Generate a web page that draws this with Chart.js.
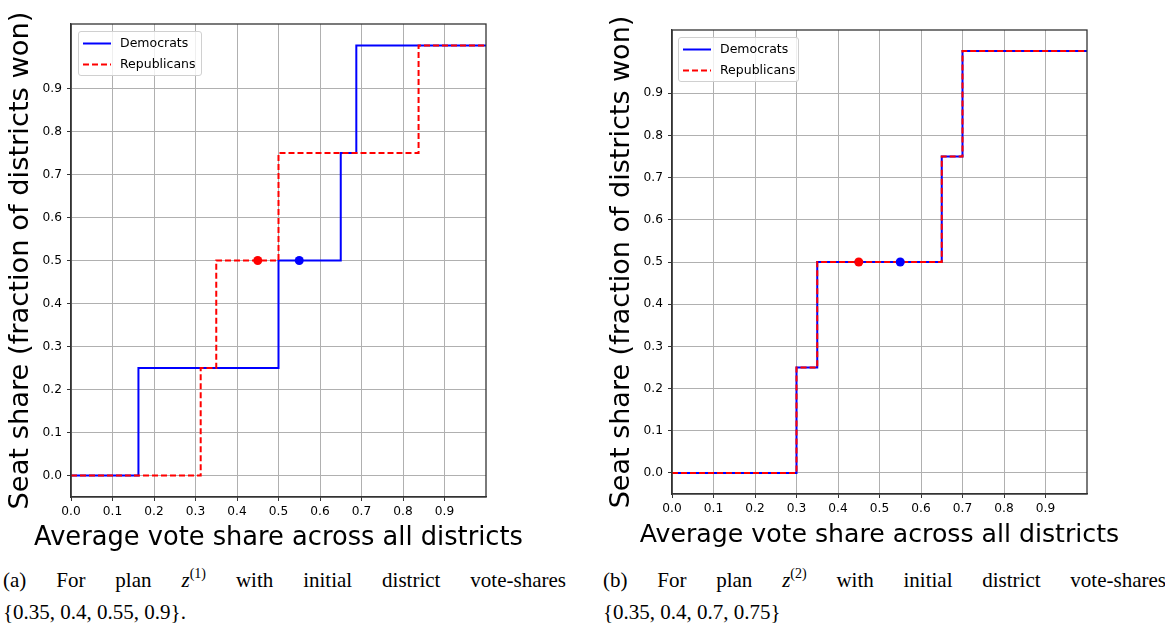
<!DOCTYPE html>
<html>
<head>
<meta charset="utf-8">
<script src="https://cdn.jsdelivr.net/npm/chart.js@4.4.1/dist/chart.umd.min.js"></script>
<style>
  body { margin: 0; width: 1165px; height: 624px; overflow: hidden; background: #fff; position: relative; }
  canvas { position: absolute; }
  .legend { position: absolute; border: 1px solid #d0d0d0; border-radius: 3px; background: rgba(255,255,255,0.8);
            font-family: 'DejaVu Sans', sans-serif; font-size: 12.5px; color: #000; box-sizing: border-box; }
  .legend .row { position: absolute; left: 0; height: 16px; line-height: 16px; white-space: nowrap; }
  .legend svg { position: absolute; left: 4px; top: 7px; }
  .legend span { position: absolute; left: 41px; top: 0; }
  .cap { position: absolute; width: 563px; font-family: 'Liberation Serif', 'DejaVu Serif', serif; font-size: 21px;
         line-height: 32px; color: #000; }
  .cap .l1 { text-align: justify; text-align-last: justify; white-space: nowrap; width: 563px; }
  .cap i { font-style: italic; }
  .cap sup { font-size: 14px; vertical-align: 9px; line-height: 0; }
</style>
</head>
<body>
<canvas id="chartA" style="left:0px;top:0px;" width="560" height="560"></canvas>
<canvas id="chartB" style="left:600px;top:0px;" width="565" height="560"></canvas>
<div id="legendA" class="legend" style="left:78px;top:31px;width:124px;height:45px;"></div>
<div id="legendB" class="legend" style="left:678px;top:37px;width:121px;height:45px;"></div>
<div class="cap" style="left:3px;top:564px;">
  <div class="l1">(a) For plan <i>z</i><sup>(1)</sup> with initial district vote-shares</div>
  <div>{0.35, 0.4, 0.55, 0.9}.</div>
</div>
<div class="cap" style="left:603px;top:564px;">
  <div class="l1">(b) For plan <i>z</i><sup>(2)</sup> with initial district vote-shares</div>
  <div>{0.35, 0.4, 0.7, 0.75}</div>
</div>
<script>
// tick positions shown on both axes (matplotlib arange(0, 1, 0.1))
var tickValues = [0, 0.1, 0.2, 0.3, 0.4, 0.5, 0.6, 0.7, 0.8, 0.9];

// plan z(1)
var demXA = [0, 0.1625, 0.5, 0.65, 0.6875, 1.0];
var demYA = [0, 0.25, 0.5, 0.75, 1.0, 1.0];
var repXA = [0, 0.3125, 0.35, 0.5, 0.8375, 1.0];
var repYA = [0, 0.25, 0.5, 0.75, 1.0, 1.0];

// plan z(2)
var demXB = [0, 0.3, 0.35, 0.65, 0.7, 1.0];
var demYB = [0, 0.25, 0.5, 0.75, 1.0, 1.0];
var repXB = [0, 0.3, 0.35, 0.65, 0.7, 1.0];
var repYB = [0, 0.25, 0.5, 0.75, 1.0, 1.0];

// average vote share markers [republicans, democrats]
var avgX = [0.45, 0.55];
var avgY = [0.5, 0.5];

var seriesLabels = ['Democrats', 'Republicans'];
var xTitle = 'Average vote share across all districts';
var yTitle = 'Seat share (fraction of districts won)';
var BLUE = '#0000ff', RED = '#ff0000';
var FONT = "'DejaVu Sans', sans-serif";

function toPoints(xs, ys) {
  return xs.map(function(x, i) { return {x: x, y: ys[i]}; });
}

// spines on top & right (chart.js only draws the axis borders)
var framePlugin = {
  id: 'frame',
  afterDraw: function(chart) {
    var a = chart.chartArea, ctx = chart.ctx;
    ctx.save();
    ctx.strokeStyle = '#333';
    ctx.lineWidth = 1.3;
    ctx.strokeRect(a.left, a.top, a.right - a.left, a.bottom - a.top);
    ctx.restore();
  }
};

// axis titles: the built-in ones get squeezed to the scale width, these overhang like matplotlib
var axisTitlePlugin = {
  id: 'axisTitles',
  afterDraw: function(chart, args, opts) {
    var a = chart.chartArea, ctx = chart.ctx;
    ctx.save();
    ctx.fillStyle = '#000';
    ctx.textAlign = 'center';
    ctx.textBaseline = 'middle';
    ctx.font = opts.xSize + 'px ' + FONT;
    ctx.fillText(xTitle, (a.left + a.right) / 2, a.bottom + opts.xOffset);
    ctx.translate(a.left - opts.yOffset, (a.top + a.bottom) / 2);
    ctx.rotate(-Math.PI / 2);
    ctx.font = opts.ySize + 'px ' + FONT;
    ctx.fillText(yTitle, 0, 0);
    ctx.restore();
  }
};

function makeChart(id, demX, demY, repX, repY, g) {
  // each point's y holds until the next x (horizontal first, then vertical)
  var datasets = [
    {label: 'avg', data: toPoints(avgX, avgY), showLine: false, pointRadius: 4.5,
     pointBackgroundColor: [RED, BLUE], pointBorderColor: [RED, BLUE], pointBorderWidth: 0, order: 0},
    {label: seriesLabels[1], data: toPoints(repX, repY), showLine: true, stepped: 'before',
     borderColor: RED, borderWidth: 2, borderDash: [6, 3], pointRadius: 0, fill: false, order: 1},
    {label: seriesLabels[0], data: toPoints(demX, demY), showLine: true, stepped: 'before',
     borderColor: BLUE, borderWidth: 2, pointRadius: 0, fill: false, order: 2}
  ];

  var tickFont = {family: FONT, size: 12.2};

  return new Chart(document.getElementById(id), {
    type: 'scatter',
    data: {datasets: datasets},
    plugins: [framePlugin, axisTitlePlugin],
    options: {
      responsive: false,
      animation: false,
      events: [],
      layout: {padding: {left: 0, top: g.top, right: g.right, bottom: 0}},
      plugins: {
        legend: {display: false},
        tooltip: {enabled: false},
        axisTitles: {xSize: g.xTitleSize, xOffset: 41, ySize: g.yTitleSize, yOffset: 50}
      },
      scales: {
        x: {
          type: 'linear', min: 0, max: 1,
          afterBuildTicks: function(s) { s.ticks = tickValues.map(function(v) { return {value: v}; }); },
          afterFit: function(s) { s.height = g.xHeight; },
          ticks: {font: tickFont, color: '#000', padding: 4, maxRotation: 0,
                  callback: function(v) { return v.toFixed(1); }},
          grid: {color: '#b0b0b0', lineWidth: 1, tickColor: '#333', tickLength: 4},
          border: {display: true, color: '#333', width: 1.3}
        },
        y: {
          type: 'linear', min: -0.05, max: 1.05,
          afterBuildTicks: function(s) { s.ticks = tickValues.map(function(v) { return {value: v}; }); },
          afterFit: function(s) { s.width = g.yWidth; },
          ticks: {font: tickFont, color: '#000', padding: 5,
                  callback: function(v) { return v.toFixed(1); }},
          grid: {color: '#b0b0b0', lineWidth: 1, tickColor: '#333', tickLength: 4},
          border: {display: true, color: '#333', width: 1.3}
        }
      }
    }
  });
}

function makeLegend(id) {
  var el = document.getElementById(id);
  var rows = [
    {label: seriesLabels[0], color: BLUE, dash: ''},
    {label: seriesLabels[1], color: RED, dash: '6,3'}
  ];
  rows.forEach(function(r, i) {
    var row = document.createElement('div');
    row.className = 'row';
    row.style.top = (3 + i * 21) + 'px';
    row.style.width = '100%';
    row.innerHTML = '<svg width="28" height="3"><line x1="0" y1="1.5" x2="28" y2="1.5" stroke="' + r.color +
      '" stroke-width="2"' + (r.dash ? ' stroke-dasharray="' + r.dash + '"' : '') + '/></svg><span>' + r.label + '</span>';
    el.appendChild(row);
  });
}

makeLegend('legendA');
makeLegend('legendB');

makeChart('chartA', demXA, demYA, repXA, repYA,
  {top: 24, right: 74, xHeight: 63, yWidth: 71, xTitleSize: 25.7, yTitleSize: 27.3});
makeChart('chartB', demXB, demYB, repXB, repYB,
  {top: 30, right: 78, xHeight: 66, yWidth: 72, xTitleSize: 25.2, yTitleSize: 27});
</script>
</body>
</html>
